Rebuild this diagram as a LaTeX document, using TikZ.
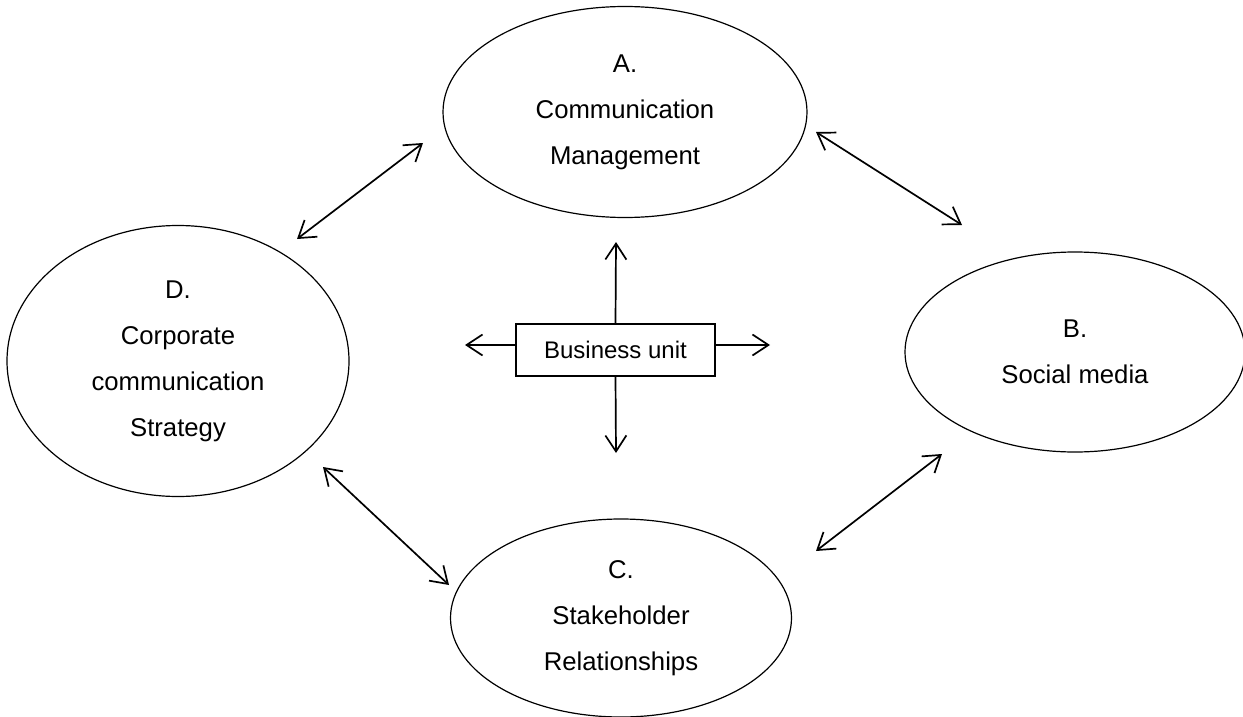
\documentclass[tikz,border=0pt]{standalone}
\usepackage{fontspec}
\setmainfont{Liberation Sans}
\usetikzlibrary{shapes.geometric,arrows.meta}

\begin{document}
\begin{tikzpicture}[x=1pt,y=-1pt,
  bubble/.style={ellipse,draw,line width=1.2pt,inner sep=0pt,align=center,
    font=\fontsize{25.7}{46}\selectfont},
  unitbox/.style={rectangle,draw,line width=1.2pt,inner sep=0pt,
    minimum width=199pt,minimum height=52pt,font=\fontsize{24}{28}\selectfont},
  tip/.style={Straight Barb[length=16pt,width=21pt]},
  link/.style={line width=1.7pt,{Straight Barb[length=16pt,width=21pt]}-{Straight Barb[length=16pt,width=21pt]}},
  ray/.style={line width=1.7pt,-{Straight Barb[length=16pt,width=21pt]}}]
  \useasboundingbox (0,0) rectangle (1243,717);

  % the four areas around the business unit
  \node[bubble,minimum width=364pt,minimum height=211pt] (A) at (625,112)
    {A.\\Communication\\Management};
  \node[bubble,minimum width=340pt,minimum height=200pt] (B) at (1075,352)
    {B.\\Social media};
  \node[bubble,minimum width=341pt,minimum height=198pt] (C) at (621,618)
    {C.\\Stakeholder\\Relationships};
  \node[bubble,minimum width=342pt,minimum height=271pt] (D) at (178,361)
    {D.\\Corporate\\communication\\Strategy};

  % central box
  \node[unitbox] (bu) at (615.5,350) {Business unit};

  % free ends of the arrows
  \coordinate (da1) at (297,239);  \coordinate (da2) at (423,143);
  \coordinate (ab1) at (816,132);  \coordinate (ab2) at (962,225);
  \coordinate (dc1) at (323,467);  \coordinate (dc2) at (449,585);
  \coordinate (cb1) at (816,551);  \coordinate (cb2) at (942,454);
  \coordinate (up) at (616,242);   \coordinate (down) at (616,453);
  \coordinate (left) at (465,345); \coordinate (right) at (770,345);

  % two-way links between neighbouring areas
  \draw[link] (da1) -- (da2);
  \draw[link] (ab1) -- (ab2);
  \draw[link] (dc1) -- (dc2);
  \draw[link] (cb1) -- (cb2);

  % arrows leaving the business unit
  \draw[ray] (bu.north) -- (up);
  \draw[ray] (bu.south) -- (down);
  \draw[ray] (bu.west |- left) -- (left);
  \draw[ray] (bu.east |- right) -- (right);
\end{tikzpicture}
\end{document}
